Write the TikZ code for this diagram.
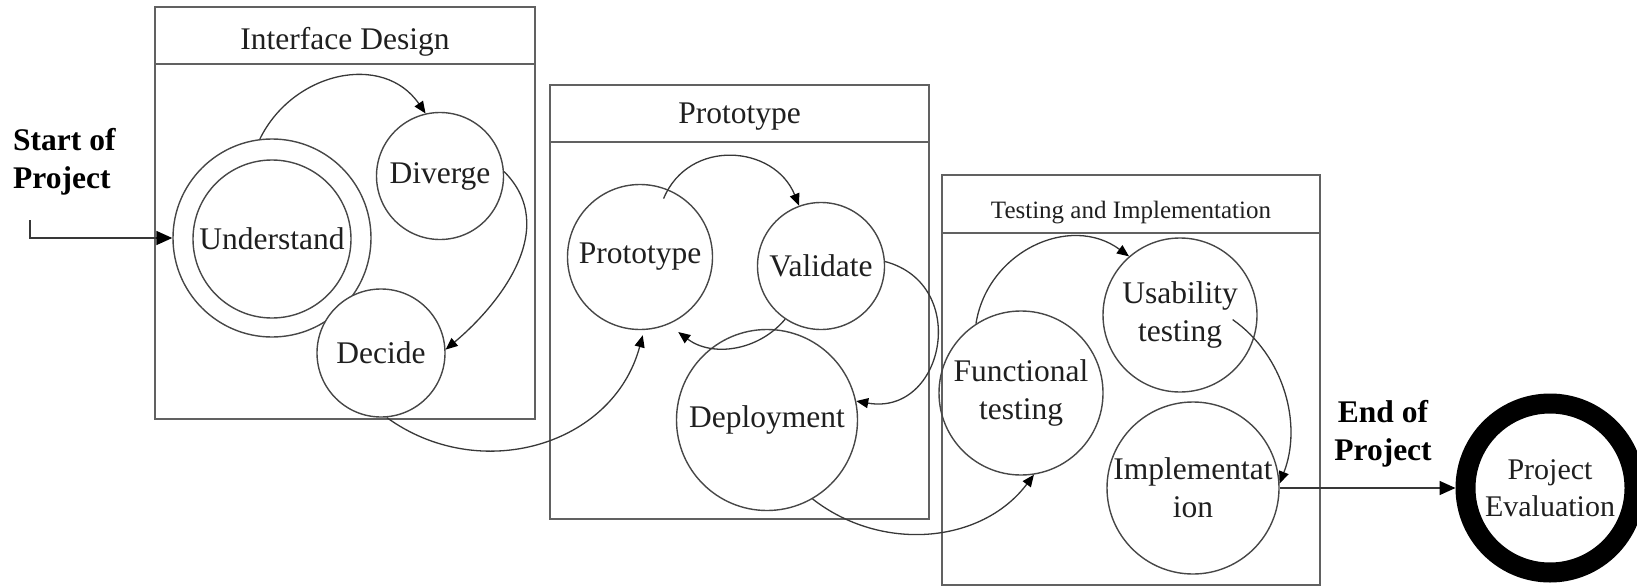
\documentclass[tikz,border=0pt]{standalone}
\usepackage{fontspec}
\setmainfont{Liberation Serif}
\usetikzlibrary{arrows.meta,calc}
\begin{document}
\begin{tikzpicture}[x=1pt,y=1pt,
  lnc/.style={draw=black!72, line width=1.4pt},
  panelbox/.style={draw=black!62, line width=1.8pt, rectangle, inner sep=0pt, outer sep=0pt, anchor=north west},
  divline/.style={draw=black!62, line width=1.8pt},
  bub/.style={circle, lnc, inner sep=0pt, align=center, font=\fontsize{31.5}{38}\selectfont, text=black!88},
  arr/.style={draw=black!78, line width=1.3pt, -{Triangle[length=12pt,width=10pt,color=black]}},
  bigarr/.style={draw=black!78, line width=1.6pt, -{Triangle[length=16pt,width=14pt,color=black]}},
  hdr/.style={font=\fontsize{31.5}{38}\selectfont, text=black!88, anchor=base, inner sep=0pt},
  lbl/.style={font=\bfseries\fontsize{31.5}{38}\selectfont, text=black, inner sep=0pt},
]
\useasboundingbox (0,0) rectangle (1637,-586);

% panels
\node[panelbox, minimum width=380pt, minimum height=412pt] (P1) at (155,-7) {};
\draw[divline] ($(P1.north west)+(0,-57)$) -- ($(P1.north east)+(0,-57)$);
\node[panelbox, minimum width=379pt, minimum height=434pt] (P2) at (550,-85) {};
\draw[divline] ($(P2.north west)+(0,-57)$) -- ($(P2.north east)+(0,-57)$);
\node[panelbox, minimum width=378pt, minimum height=410pt] (P3) at (942,-175) {};
\draw[divline] ($(P3.north west)+(0,-58)$) -- ($(P3.north east)+(0,-58)$);

% headers
\node[hdr] (H1) at (345,-50) {Interface Design};
\node[hdr] (H2) at (739.5,-123) {Prototype};
\node[hdr, font=\fontsize{25}{30}\selectfont] (H3) at (1131,-218) {Testing and Implementation};

% circles
\node[bub, minimum size=198pt] (U) at (272,-238) {};
\node[bub, minimum size=158pt] (Ui) at (272,-239) {Understand};
\node[bub, minimum size=127pt] (Dv) at (440,-176) {Diverge};
\node[bub, minimum size=128pt, fill=white] (Dc) at (381,-353) {Decide};
\node[bub, minimum size=145pt] (Pr) at (640,-257) {Prototype};
\node[bub, minimum size=127pt] (Va) at (821,-266) {Validate};
\node[bub, minimum size=181pt] (De) at (767,-420) {Deployment};
\node[bub, minimum size=164pt] (Fu) at (1021,-393) {Functional\\testing};
\node[bub, minimum size=154pt] (Us) at (1180,-315) {Usability\\testing};
\node[bub, minimum size=172pt] (Im) at (1193,-488) {Implementat\\ion};
\node[circle, draw=black, line width=20pt, minimum size=169pt, inner sep=0pt, align=center,
      font=\fontsize{30}{37}\selectfont, text=black!88] (PE) at (1550,-488) {Project\\Evaluation};

% labels
\node[lbl, align=left, anchor=north west] (S) at (13,-128) {Start of\\Project};
\node[lbl, align=center, anchor=north] (E) at (1383,-400) {End of\\Project};

% connectors
\coordinate (s0) at (30,-220);
\draw[bigarr] (s0) |- (U.west);
\draw[arr] (U.97) to[out=64,in=124.5,looseness=1.14] (Dv.103);
\draw[arr] (Dv.4) to[out=-45,in=40,out distance=80pt,in distance=70pt] (Dc.3);
\draw[arr] (Dc.-85) to[out=-36,in=-105,looseness=1.09] ($(Pr.center)!1.07!(Pr.-88)$);
\draw[arr] ($(Pr.center)!0.86!(Pr.68)$) to[out=67.5,in=112,looseness=1.24] (Va.110);
\draw[arr] (Va.4) to[out=-15,in=-10,looseness=1.6] (De.12);
\draw[arr] (Va.-124) to[out=-130,in=-37] ($(Pr.center)!1.15!(Pr.-63)$);
\draw[arr] (De.-60) to[out=-38,in=-127] (Fu.-81);
\draw[arr] (Fu.123) to[out=81,in=143.6,looseness=1.12] (Us.131);
\draw[arr] ($(Us.center)!0.68!(Us.-5)$) to[out=-35,in=68.7,looseness=0.95] (Im.3);
\draw[bigarr] (Im.east) -- (PE.west);
\end{tikzpicture}
\end{document}
